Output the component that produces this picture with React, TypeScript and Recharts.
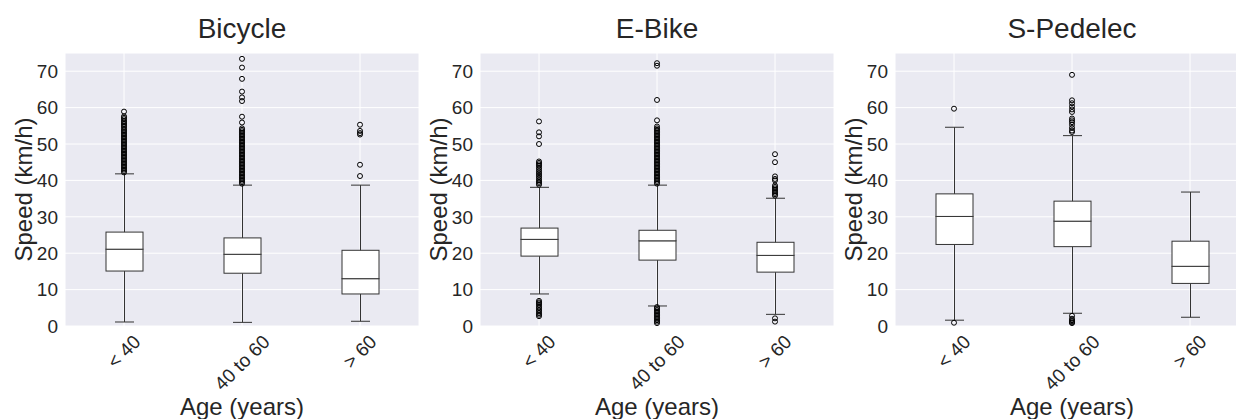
import React from 'react';
import { Bar, CartesianGrid, ComposedChart, Label, Scatter, XAxis, YAxis } from 'recharts';

const FONT = '"Liberation Sans", Arial, sans-serif';
const INK = '#262626';
const LINE = '#333333';
const TICK_FONT = 19;

const ages = ['< 40', '40 to 60', '> 60'];
const speedTicks = [0, 10, 20, 30, 40, 50, 60, 70];

// Bicycle
const bicycleMin = [1.1, 1.0, 1.3];
const bicycleQ1 = [15.1, 14.5, 8.8];
const bicycleMedian = [21.1, 19.7, 13.0];
const bicycleQ3 = [25.8, 24.2, 20.8];
const bicycleMax = [41.8, 38.7, 38.7];
const bicycleOutliersYoung = [
  58.9, 57.6, 57.2, 56.8, 56.3, 55.9, 55.5, 55.1, 54.7, 54.2, 53.8, 53.4, 53.0, 52.6, 52.2, 51.8, 51.4, 51.0,
  50.6, 50.2, 49.8, 49.4, 49.0, 48.6, 48.2, 47.8, 47.4, 47.0, 46.6, 46.2, 45.8, 45.4, 45.0, 44.6, 44.2, 43.8,
  43.4, 43.0, 42.6, 42.2,
];
const bicycleOutliersMid = [
  73.4, 71.0, 67.9, 64.4, 62.8, 61.8, 57.5, 55.9, 54.3, 53.9, 53.5, 53.1, 52.7, 52.3, 51.9, 51.5, 51.1, 50.7,
  50.3, 49.9, 49.5, 49.1, 48.7, 48.3, 47.9, 47.5, 47.1, 46.7, 46.3, 45.9, 45.5, 45.1, 44.7, 44.3, 43.9, 43.5,
  43.1, 42.7, 42.3, 41.9, 41.5, 41.1, 40.7, 40.3, 39.9, 39.5, 39.1,
];
const bicycleOutliersOld = [55.3, 53.6, 53.0, 52.6, 44.3, 41.2];

// E-Bike
const ebikeMin = [8.8, 5.5, 3.2];
const ebikeQ1 = [19.2, 18.1, 14.8];
const ebikeMedian = [23.8, 23.4, 19.4];
const ebikeQ3 = [26.9, 26.3, 23.0];
const ebikeMax = [38.1, 38.7, 35.1];
const ebikeOutliersYoung = [
  56.2, 53.2, 52.1, 50.0, 45.2, 44.8, 44.4, 44.0, 43.5, 43.0, 42.5, 42.0, 41.5, 41.0, 40.5, 40.0, 39.6, 39.2,
  38.8, 6.9, 6.5, 6.2, 5.8, 5.3, 4.9, 4.4, 4.0, 3.5, 3.1, 2.7,
];
const ebikeOutliersMid = [
  72.2, 71.5, 62.1, 56.5, 54.8, 54.3, 53.9, 53.5, 53.1, 52.7, 52.3, 51.9, 51.5, 51.1, 50.7, 50.3, 49.9, 49.5,
  49.1, 48.7, 48.3, 47.9, 47.5, 47.1, 46.7, 46.3, 45.9, 45.5, 45.1, 44.7, 44.3, 43.9, 43.5, 43.1, 42.7, 42.3,
  41.9, 41.5, 41.1, 40.7, 40.3, 39.9, 39.5, 39.1, 5.2, 4.8, 4.4, 4.0, 3.6, 3.2, 2.8, 2.4, 2.0, 1.6, 1.2, 0.8,
];
const ebikeOutliersOld = [
  47.2, 45.0, 41.1, 40.4, 40.0, 38.6, 38.2, 37.8, 37.4, 37.0, 36.6, 36.2, 35.8, 2.1, 1.2,
];

// S-Pedelec
const pedelecMin = [1.6, 3.5, 2.4];
const pedelecQ1 = [22.4, 21.8, 11.7];
const pedelecMedian = [30.1, 28.8, 16.4];
const pedelecQ3 = [36.3, 34.3, 23.3];
const pedelecMax = [54.6, 52.3, 36.8];
const pedelecOutliersYoung = [59.7, 0.9];
const pedelecOutliersMid = [
  69.0, 62.0, 61.2, 60.3, 59.5, 58.8, 57.0, 56.5, 56.0, 55.3, 54.4, 53.7, 53.3, 2.8, 2.0, 1.6, 1.3, 1.0, 0.8,
];
const pedelecOutliersOld: number[] = [];

const PLOT_TOP = 53;
const PLOT_W = 354;
const Y_AXIS_W = 65;
const X_AXIS_H = 93;
const CHART_H = 419;

let measureCtx: CanvasRenderingContext2D | null = null;
function textWidth(s: string) {
  if (!measureCtx) measureCtx = document.createElement('canvas').getContext('2d');
  if (!measureCtx) return s.length * TICK_FONT * 0.55;
  measureCtx.font = `${TICK_FONT}px "Liberation Sans"`;
  return measureCtx.measureText(s).width;
}

function AgeTick({ x, y, payload }: any) {
  const label = String(payload.value);
  const h = (textWidth(label) + TICK_FONT * 0.8) * Math.SQRT1_2;
  const cy = y + h / 2;
  return (
    <text
      x={x}
      y={cy}
      textAnchor="middle"
      dominantBaseline="central"
      transform={`rotate(-45, ${x}, ${cy})`}
      fontSize={TICK_FONT}
      fontFamily={FONT}
      fill={INK}
    >
      {label}
    </text>
  );
}

const Hidden = () => <g />;

function LowWhisker({ x, y, width, height }: any) {
  const cx = x + width / 2;
  const yb = y + height;
  return (
    <g>
      <line x1={cx} x2={cx} y1={y} y2={yb} stroke={LINE} strokeWidth={1} />
      <line x1={cx - 9.5} x2={cx + 9.5} y1={yb} y2={yb} stroke={LINE} strokeWidth={1} />
    </g>
  );
}

function HighWhisker({ x, y, width, height }: any) {
  const cx = x + width / 2;
  return (
    <g>
      <line x1={cx} x2={cx} y1={y} y2={y + height} stroke={LINE} strokeWidth={1} />
      <line x1={cx - 9.5} x2={cx + 9.5} y1={y} y2={y} stroke={LINE} strokeWidth={1} />
    </g>
  );
}

function BoxHalf({ x, y, width, height }: any) {
  return <rect x={x} y={y} width={width} height={height} fill="#ffffff" stroke={LINE} strokeWidth={1} />;
}

function Flier({ cx, cy }: any) {
  return <circle cx={cx} cy={cy} r={2.5} fill="none" stroke="#000" strokeWidth={1} />;
}

type PanelProps = {
  title: string;
  left: number;
  mins: number[];
  q1s: number[];
  medians: number[];
  q3s: number[];
  maxs: number[];
  outliers: number[][];
};

function Panel({ left, mins, q1s, medians, q3s, maxs, outliers }: PanelProps) {
  const rows = ages.map((age, i) => ({
    age,
    base: mins[i],
    lowWhisker: q1s[i] - mins[i],
    lowBox: medians[i] - q1s[i],
    highBox: q3s[i] - medians[i],
    highWhisker: maxs[i] - q3s[i],
  }));
  const fliers = ages.flatMap((age, i) => outliers[i].map((v) => ({ age, v })));

  return (
    <div style={{ position: 'absolute', left, top: 0 }}>
      <ComposedChart
        width={Y_AXIS_W + PLOT_W}
        height={CHART_H}
        data={rows}
        margin={{ top: PLOT_TOP, right: 0, bottom: 0, left: 0 }}
      >
        <CartesianGrid fill="#EAEAF2" stroke="#ffffff" strokeWidth={1} />
        <XAxis
          dataKey="age"
          type="category"
          allowDuplicatedCategory={false}
          height={X_AXIS_H}
          axisLine={false}
          tickLine={false}
          tickSize={0}
          tickMargin={7}
          interval={0}
          tick={<AgeTick />}
        >
          <Label
            content={({ viewBox }: any) => (
              <text
                x={viewBox.x + viewBox.width / 2}
                y={viewBox.y + 89}
                textAnchor="middle"
                fontSize={24}
                fontFamily={FONT}
                fill={INK}
              >
                Age (years)
              </text>
            )}
          />
        </XAxis>
        <YAxis
          width={Y_AXIS_W}
          domain={[0, 75]}
          ticks={speedTicks}
          allowDataOverflow
          axisLine={false}
          tickLine={false}
          tickSize={5}
          tickMargin={2}
          tick={{ fontSize: TICK_FONT, fontFamily: FONT, fill: INK }}
        >
          <Label
            content={({ viewBox }: any) => {
              const bx = viewBox.x + viewBox.width - 33;
              const cy = viewBox.y + viewBox.height / 2;
              return (
                <text
                  x={bx}
                  y={cy}
                  textAnchor="middle"
                  transform={`rotate(-90, ${bx}, ${cy})`}
                  fontSize={24}
                  fontFamily={FONT}
                  fill={INK}
                >
                  Speed (km/h)
                </text>
              );
            }}
          />
        </YAxis>
        <Bar dataKey="base" stackId="box" barSize={37} shape={<Hidden />} isAnimationActive={false} />
        <Bar dataKey="lowWhisker" stackId="box" barSize={37} shape={<LowWhisker />} isAnimationActive={false} />
        <Bar dataKey="lowBox" stackId="box" barSize={37} shape={<BoxHalf />} isAnimationActive={false} />
        <Bar dataKey="highBox" stackId="box" barSize={37} shape={<BoxHalf />} isAnimationActive={false} />
        <Bar dataKey="highWhisker" stackId="box" barSize={37} shape={<HighWhisker />} isAnimationActive={false} />
        <Scatter data={fliers} dataKey="v" shape={<Flier />} isAnimationActive={false} />
      </ComposedChart>
    </div>
  );
}

const panels: PanelProps[] = [
  {
    title: 'Bicycle',
    left: 0,
    mins: bicycleMin,
    q1s: bicycleQ1,
    medians: bicycleMedian,
    q3s: bicycleQ3,
    maxs: bicycleMax,
    outliers: [bicycleOutliersYoung, bicycleOutliersMid, bicycleOutliersOld],
  },
  {
    title: 'E-Bike',
    left: 415,
    mins: ebikeMin,
    q1s: ebikeQ1,
    medians: ebikeMedian,
    q3s: ebikeQ3,
    maxs: ebikeMax,
    outliers: [ebikeOutliersYoung, ebikeOutliersMid, ebikeOutliersOld],
  },
  {
    title: 'S-Pedelec',
    left: 830,
    mins: pedelecMin,
    q1s: pedelecQ1,
    medians: pedelecMedian,
    q3s: pedelecQ3,
    maxs: pedelecMax,
    outliers: [pedelecOutliersYoung, pedelecOutliersMid, pedelecOutliersOld],
  },
];

export default function App() {
  return (
    <div
      style={{
        position: 'absolute',
        left: 0,
        top: 0,
        width: 1236,
        height: 419,
        overflow: 'hidden',
        background: '#ffffff',
      }}
    >
      {panels.map((p) => (
        <Panel key={p.title} {...p} />
      ))}
      <svg width={1236} height={419} style={{ position: 'absolute', left: 0, top: 0, pointerEvents: 'none' }}>
        {panels.map((p) => (
          <text
            key={p.title}
            x={p.left + Y_AXIS_W + PLOT_W / 2}
            y={38}
            textAnchor="middle"
            fontSize={28}
            fontFamily={FONT}
            fill={INK}
          >
            {p.title}
          </text>
        ))}
      </svg>
    </div>
  );
}
